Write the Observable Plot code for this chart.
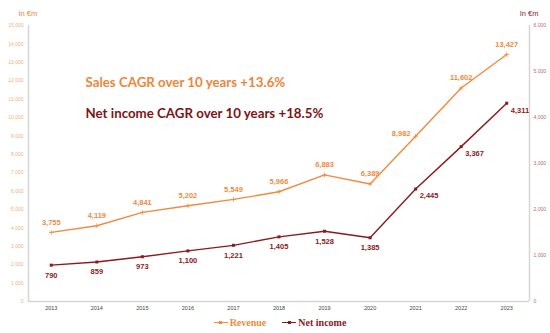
<!DOCTYPE html>
<html>
<head>
<meta charset="utf-8">
<script src="https://cdn.jsdelivr.net/npm/d3@7"></script>
<script src="https://cdn.jsdelivr.net/npm/@observablehq/plot@0.6"></script>
<style>
  html, body { margin: 0; padding: 0; background: #fff; }
  #wrap { width: 550px; height: 333px; position: relative; overflow: hidden; }
  #legend { position: absolute; left: 0; top: 312px; width: 550px; height: 20px; display: flex; justify-content: center; align-items: center; gap: 16px; font-family: "Liberation Serif", "DejaVu Serif", serif; font-weight: bold; font-size: 10px; padding-left: 10px; box-sizing: border-box; }
  .item { display: flex; align-items: center; gap: 2px; }
  .sw { position: relative; width: 14px; height: 8px; }
  .sw .ln { position: absolute; left: 0; right: 0; top: 3.5px; height: 1.3px; }
  .sw .mk { position: absolute; left: 5.5px; top: 2.5px; width: 3px; height: 3px; }
</style>
</head>
<body>
<div id="wrap">
  <div id="chart"></div>
  <div id="legend"></div>
</div>
<script>
const years = [2013, 2014, 2015, 2016, 2017, 2018, 2019, 2020, 2021, 2022, 2023];
const revenue = [3755, 4119, 4841, 5202, 5549, 5966, 6883, 6389, 8982, 11602, 13427];
const netIncome = [790, 859, 973, 1100, 1221, 1405, 1528, 1385, 2445, 3367, 4311];
const leftTicks = [0, 1000, 2000, 3000, 4000, 5000, 6000, 7000, 8000, 9000, 10000, 11000, 12000, 13000, 14000, 15000];
const rightTicks = [0, 1000, 2000, 3000, 4000, 5000, 6000];
const seriesNames = ["Revenue", "Net income"];
const annotations = ["Sales CAGR over 10 years +13.6%", "Net income CAGR over 10 years +18.5%"];
const unitLabel = "In €m";

const orange = "#F28A3E";
const darkRed = "#8B1A1C";
const k = 15000 / 6000;
const fmt = d3.format(",");

const rows = years.map((year, i) => ({year, revenue: revenue[i], net: netIncome[i], netScaled: netIncome[i] * k}));
const splitYear = 2021;

const chart = Plot.plot({
  width: 550,
  height: 312,
  marginLeft: 28,
  marginRight: 21,
  marginTop: 25,
  marginBottom: 11,
  style: {fontFamily: "'Liberation Sans', Arial, sans-serif", background: "#fff"},
  x: {domain: [2012.5, 2023.5], axis: null},
  y: {domain: [0, 15000], axis: null},
  marks: [
    Plot.ruleY([0], {stroke: "#d6d6d6", strokeWidth: 1.5}),
    Plot.ruleX([2012.5], {stroke: "#d6d6d6", strokeWidth: 1.5}),
    Plot.ruleX([2023.5], {stroke: "#d6d6d6", strokeWidth: 1.5}),
    Plot.axisY(leftTicks, {anchor: "left", tickSize: 0, tickPadding: 5, tickFormat: fmt, fontSize: 5, fill: "#F2AE84", label: null}),
    Plot.axisY(rightTicks.map(d => d * k), {anchor: "right", tickSize: 0, tickPadding: 4, tickFormat: d => fmt(Math.round(d / k)), fontSize: 5, fill: "#B06A6C", label: null}),
    Plot.axisX(years, {anchor: "bottom", tickSize: 0, tickPadding: 5, tickFormat: d => String(d), fontSize: 5.5, fill: "#444", label: null}),
    Plot.line(rows, {x: "year", y: "revenue", stroke: orange, strokeWidth: 1.4}),
    Plot.dot(rows, {x: "year", y: "revenue", fill: orange, r: 1.6, symbol: "plus", stroke: orange, strokeWidth: 0.8}),
    Plot.line(rows, {x: "year", y: "netScaled", stroke: darkRed, strokeWidth: 1.4}),
    Plot.dot(rows, {x: "year", y: "netScaled", fill: darkRed, r: 1.7, symbol: "square"}),
    Plot.text(rows.filter(d => d.year !== splitYear), {x: "year", y: "revenue", text: d => fmt(d.revenue), dy: -10, fill: orange, fontSize: 7.5, fontWeight: "bold"}),
    Plot.text(rows.filter(d => d.year === splitYear), {x: "year", y: "revenue", text: d => fmt(d.revenue), dx: -5, dy: -3, textAnchor: "end", fill: orange, fontSize: 7.5, fontWeight: "bold"}),
    Plot.text(rows.filter(d => d.year < splitYear), {x: "year", y: "netScaled", text: d => fmt(d.net), dy: 10, fill: darkRed, fontSize: 7.5, fontWeight: "bold"}),
    Plot.text(rows.filter(d => d.year >= splitYear), {x: "year", y: "netScaled", text: d => fmt(d.net), dx: 4, dy: 7, textAnchor: "start", fill: darkRed, fontSize: 7.5, fontWeight: "bold"}),
    Plot.text([annotations[0]], {frameAnchor: "top-left", dx: 57, dy: 52, textAnchor: "start", fill: "#EE8538", fontSize: 13.3, fontWeight: "bold", fontFamily: "Lato, 'Open Sans', sans-serif"}),
    Plot.text([annotations[1]], {frameAnchor: "top-left", dx: 57, dy: 83, textAnchor: "start", fill: "#7E1316", fontSize: 13.3, fontWeight: "bold", fontFamily: "Lato, 'Open Sans', sans-serif"}),
    Plot.text([unitLabel], {frameAnchor: "top-left", dx: -10, dy: -15, fill: "#EE8538", fontSize: 7.5}),
    Plot.text([unitLabel], {frameAnchor: "top-right", dx: 9, dy: -15, fill: darkRed, fontSize: 7.5})
  ]
});
document.getElementById("chart").appendChild(chart);

const legend = document.getElementById("legend");
[[seriesNames[0], orange], [seriesNames[1], darkRed]].forEach(([name, color]) => {
  const item = document.createElement("div");
  item.className = "item";
  item.innerHTML = `<span class="sw"><span class="ln" style="background:${color}"></span><span class="mk" style="background:${color}"></span></span><span style="color:${color}">${name}</span>`;
  legend.appendChild(item);
});
</script>
</body>
</html>
